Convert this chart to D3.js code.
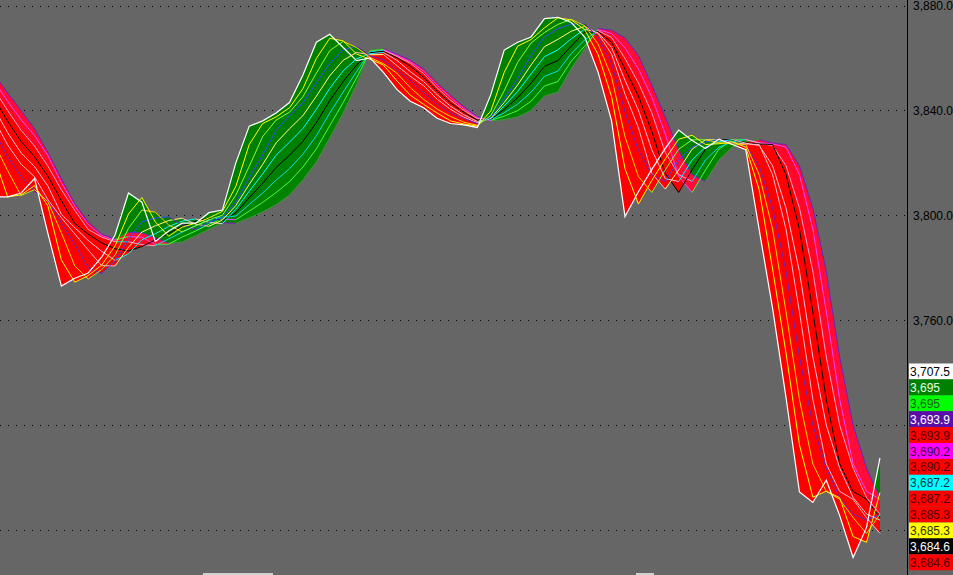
<!DOCTYPE html>
<html><head><meta charset="utf-8">
<script src="https://cdn.jsdelivr.net/npm/d3@7"></script>
<style>html,body{margin:0;padding:0;background:#666666;overflow:hidden}svg{display:block}</style>
</head><body>
<svg id="chart" width="953" height="575"></svg>
<script>
// ---- data ----
const price = [3807,3807,3808.5,3814,3793,3773,3776,3778,3784,3792.5,
3808.5,3805,3790,3794,3797,3797,3801,3802,3820,3834,
3836,3839,3843,3853.5,3866,3869,3864,3859,3860,3854.5,
3848,3843.5,3841,3837,3835,3834.5,3833.5,3846,3863,3866,
3868,3875,3875.5,3873.5,3868,3854.5,3836,3799.5,3809,3817.5,
3825.5,3832.5,3828.5,3825.5,3829,3827,3825,3794.5,3764.5,3730.5,
3694.5,3690.5,3699,3685.5,3669.5,3681,3707.5];
const ma2 = [3822,3807,3807.8,3811.3,3803.5,3783,3774.5,3777,3781,3788.3,
3800.5,3806.8,3797.5,3792,3795.5,3797,3799,3801.5,3811,3827,
3835,3837.5,3841,3848.3,3859.8,3867.5,3866.5,3861.5,3859.5,3857.3,
3851.3,3845.8,3842.3,3839,3836,3834.8,3834,3839.8,3854.5,3864.5,
3867,3871.5,3875.3,3874.5,3870.8,3861.3,3845.3,3817.8,3804.3,3813.3,
3821.5,3829,3830.5,3827,3827.3,3828,3826,3809.8,3779.5,3747.5,
3712.5,3692.5,3694.8,3692.3,3677.5,3675.3,3694.3];
const ma3 = [3827.3,3817,3807.5,3809.8,3805.2,3793.3,3780.7,3775.7,3779.3,3784.8,
3795,3802,3801.2,3796.3,3793.7,3796,3798.3,3800,3807.7,3818.7,
3830,3836.3,3839.3,3845.2,3854.2,3862.8,3866.3,3864,3860.2,3857.8,
3854.2,3848.7,3844.2,3840.5,3837.7,3835.5,3834.3,3838,3847.5,3858.3,
3865.7,3869.7,3872.8,3874.7,3872.3,3865.3,3852.8,3830,3814.8,3808.7,
3817.3,3825.2,3828.8,3828.8,3827.7,3827.2,3827,3815.5,3794.7,3763.2,
3729.8,3705.2,3694.7,3691.7,3684.7,3678.7,3686];
const ma4 = [3831.8,3822.3,3814.9,3809.1,3805.6,3797.1,3789,3780,3777.8,3782.6,
3790.8,3797.5,3799,3799.4,3796.5,3794.5,3797.3,3799.3,3805,3814.3,
3823,3832.3,3838,3842.9,3850.4,3857.9,3863.1,3864.5,3860.8,3859.4,
3855.4,3851.5,3846.8,3842.4,3839.1,3836.9,3835,3837.3,3844.3,3852.1,
3860.8,3868,3871.1,3873,3873,3867.9,3858,3839.5,3824.8,3815.5,
3812.9,3821.1,3826,3828,3828.9,3827.5,3826.6,3818.9,3802.8,3778.6,
3746,3720,3703.6,3692.4,3686.1,3683.8,3685.9];
const ma5 = [3836.4,3826.8,3819.5,3814.7,3805.9,3799.1,3792.9,3786.8,3780.8,3780.7,
3787.8,3793.6,3796,3798,3798.9,3796.6,3795.8,3798.2,3803.7,3811.8,
3819.4,3827.6,3833,3838,3845.4,3853.2,3859.1,3862.1,3861.2,3861.3,
3857.1,3853,3849.4,3844.3,3840.4,3837.4,3835.3,3837,3843,3849.7,
3857.3,3864.3,3867.1,3870.2,3872,3869.3,3861.5,3846.3,3833.4,
3816,3810,3817.3,3825.2,3828.8,3828.8,3827.7,3827.2,3827,3815.5,
3794.7,3763.2,3729.8,3705.2,3694.7,3691.7,3684.7,3678.7];
const ma6 = [3840.7,3831.5,3823.8,3818.6,3811.1,3800.4,3795.3,3790.4,3786.3,3782.8,
3785.3,3790.7,3793,3795.7,3797.8,3798.6,3797.3,3796.8,3802.3,3809.2,
3815.8,3822.9,3827.9,3833.1,3840.4,3848.4,3855.1,3859.7,3861.6,3862.1,
3859.1,3854.8,3851,3846,3841.6,3838.3,3835.8,3836.8,3841.7,3847.2,
3853.9,3860.5,3863.1,3867.3,3871,3869.6,3864,3851.5,3840.1,
3825,3814,3812.9,3821.1,3826,3828,3828.9,3827.5,3826.6,3818.9,
3802.8,3778.6,3746,3720,3703.6,3692.4,3686.1,3683.8];
const ma7 = [3844.6,3835.9,3828.2,3822.4,3814.9,3805.6,3796.9,3792.8,3789.5,3787.2,
3786.4,3788.1,3790.6,3793.1,3795.9,3797.7,3798.9,3798,3801,3806.7,
3812.2,3818.2,3822.9,3828.2,3835.3,3843.7,3851,3857.3,3862,3862.5,
3860.1,3856.9,3852.6,3847.4,3842.8,3839.2,3836.3,3836.6,3840.4,3844.8,
3850.4,3856.8,3859,3864.5,3869.9,3870,3866,3855.8,3845.5,
3832,3816,3808.7,3817.3,3825.2,3828.8,3828.8,3827.7,3827.2,3827,
3815.5,3794.7,3763.2,3729.8,3705.2,3694.7,3691.7,3684.7];
const ma8 = [3848,3839.9,3832.4,3826.4,3818.7,3809.7,3801.9,3794.6,3791.7,3789.9,
3789.9,3788.8,3788.4,3791,3793.6,3796,3798.1,3799.3,3799.7,3804.1,
3808.5,3813.4,3817.8,3823.3,3830.3,3839,3847,3854.8,3862.3,3862.9,
3860.6,3858,3854,3848.6,3843.9,3840,3836.8,3836.4,3839.1,3842.4,
3846.9,3853,3855,3861.7,3866.9,3870.4,3867.8,3859.8,3850.5,
3839,3824,3815.5,3812.9,3821.1,3826,3828,3828.9,3827.5,3826.6,
3818.9,3802.8,3778.6,3746,3720,3703.6,3692.4,3686.1];
const ma9 = [3851.1,3843.4,3836.4,3830.4,3822.7,3812.5,3803.5,3796.5,3792.3,3790.5,
3791.9,3791.6,3788.9,3789,3791.7,3794,3796.6,3798.6,3798.3,3801.6,
3804.9,3808.7,3812.8,3818.4,3825.3,3834.2,3843,3852.4,3862.6,3863.2,
3861,3858.6,3855,3849.6,3844.9,3840.7,3837.2,3836.2,3837.8,3839.9,
3843.5,3849.3,3851,3858.8,3864.5,3870.8,3869.3,3863.8,3855.8,
3845,3831,3814.8,3808.7,3817.3,3825.2,3828.8,3828.8,3827.7,3827.2,
3826,3815.5,3794.7,3763.2,3729.8,3705.2,3694.7,3691.7];
const maSlow = [3853.8,3846.7,3840,3833,3824,3814,3804.5,3797.5,3792.8,3791,
3793.5,3793.3,3791.4,3789.4,3789.8,3792.2,3794.7,3797.1,3797,3799,
3801.3,3804,3807.7,3813.5,3820.3,3829.5,3839,3850,3863,3863.5,
3861.4,3859.2,3855.8,3850.5,3845.8,3841.4,3837.6,3836,3836.5,3837.5,
3840,3845.5,3847,3856,3863.5,3871.2,3870.6,3867.6,3861,
3849.7,3837.5,3824.8,3815.5,3812.9,3821.1,3826,3828,3828.9,3827.5,
3827,3818.9,3802.8,3778.6,3746,3720,3703.6,3692.4];

const maSeries = [ma2, ma3, ma4, ma5, ma6, ma7, ma8, ma9, maSlow];
const maUpColors   = ["#ffff00","#80ff40","#2850ff","#ffff80","#00ffff","#000000","#00e0e0","#40ff40","#30a030"];
const maDownColors = ["#ffff00","#ffd000","#7020c0","#ffb8c8","#ffc0d0","#000000","#ffa0c8","#ff40ff","#7020c0"];
const bandUpColors   = ["#008000","#008000","#008000","#008000","#008000","#008000","#008000","#008400","#008400"];
const bandDownColors = ["#ff0000","#ff0000","#ff0000","#ff0000","#ff0000","#ff0000","#ff0000","#ff0828","#ff0c38"];

const gridValues  = [3880, 3840, 3800, 3760, 3720, 3680];
const labelValues = [3880, 3840, 3800, 3760];

const legendLabels = ["3,707.5","3,695","3,695","3,693.9","3,693.9","3,690.2","3,690.2","3,687.2","3,687.2","3,685.3","3,685.3","3,684.6","3,684.6"];
const legendFills  = ["#ffffff","#008000","#00ff00","#5a10a8","#ff0000","#ff00ff","#ff0000","#00ffff","#ff0000","#ff0000","#ffff00","#000000","#ff0000"];
const legendInk    = ["#000000","#e8ffe8","#106010","#ffffff","#500000","#400040","#500000","#003040","#500000","#500000","#303000","#ffffff","#500000"];

// ---- drawing ----
const W = 953, H = 575, plotRight = 907;
const svg = d3.select("#chart");
const n = price.length;
const idx = d3.range(n);
const x = d3.scaleLinear().domain([0, 68]).range([-5.72, 906.8]);
const y = d3.scaleLinear().domain([3680, 3880]).range([530, 5.5]);

svg.append("rect").attr("width", W).attr("height", H).attr("fill", "#666666");

const defs = svg.append("defs");
defs.append("clipPath").attr("id", "plotClip")
  .append("rect").attr("x", 0).attr("y", 0).attr("width", plotRight).attr("height", H);

// grid
const grid = svg.append("g");
gridValues.forEach(t => {
  grid.append("line").attr("x1", 0).attr("x2", plotRight)
    .attr("y1", Math.round(y(t)) + 0.5).attr("y2", Math.round(y(t)) + 0.5)
    .attr("stroke", "#000").attr("stroke-width", 1).attr("stroke-dasharray", "1,7");
});

const plot = svg.append("g").attr("clip-path", "url(#plotClip)");
const lines = [price, ...maSeries];

// bands between consecutive lines: green where the faster is above, red where below
for (let k = 0; k < lines.length - 1; k++) {
  const fast = lines[k], slow = lines[k + 1];
  const band = d3.area().x(i => x(i)).y0(i => y(slow[i])).y1(i => y(fast[i]))(idx);
  const above = d3.area().x(i => x(i)).y0(0).y1(i => y(slow[i]))(idx);
  const below = d3.area().x(i => x(i)).y0(H).y1(i => y(slow[i]))(idx);
  defs.append("clipPath").attr("id", "ab" + k).append("path").attr("d", above);
  defs.append("clipPath").attr("id", "bl" + k).append("path").attr("d", below);
  plot.append("g").attr("clip-path", "url(#ab" + k + ")")
    .append("path").attr("d", band).attr("fill", bandUpColors[k]);
  plot.append("g").attr("clip-path", "url(#bl" + k + ")")
    .append("path").attr("d", band).attr("fill", bandDownColors[k]);
}

// moving average lines, each segment coloured by its direction
const seg = d3.line();
for (let m = maSeries.length - 1; m >= 0; m--) {
  const s = maSeries[m];
  const g = plot.append("g");
  for (let i = 0; i < n - 1; i++) {
    g.append("path")
      .attr("d", seg([[x(i), y(s[i])], [x(i + 1), y(s[i + 1])]]))
      .attr("fill", "none").attr("stroke-width", 1)
      .attr("stroke", s[i + 1] >= s[i] ? maUpColors[m] : maDownColors[m]);
  }
}

// price line
plot.append("path")
  .attr("d", d3.line().x(i => x(i)).y(i => y(price[i]))(idx))
  .attr("fill", "none").attr("stroke", "#ffffff").attr("stroke-width", 1.2);

// right axis
const axis = svg.append("g").attr("transform", "translate(" + plotRight + ",0)")
  .call(d3.axisRight(y).tickValues(labelValues).tickSize(0).tickPadding(6).tickFormat(d3.format(",.1f")));
axis.select(".domain").remove();
axis.selectAll("text").attr("fill", "#000").attr("font-family", "Liberation Sans, Arial, sans-serif").attr("font-size", 12);
svg.append("line").attr("x1", plotRight + 0.5).attr("x2", plotRight + 0.5).attr("y1", 0).attr("y2", H)
  .attr("stroke", "#000").attr("stroke-width", 1);

// value legend boxes
const lg = svg.append("g");
const boxTop = 363.5, boxH = 15.9;
legendLabels.forEach((lab, k) => {
  lg.append("rect").attr("x", plotRight + 2).attr("y", boxTop + k * boxH)
    .attr("width", W - plotRight - 2).attr("height", boxH).attr("fill", legendFills[k]);
  lg.append("text").attr("x", plotRight + 3).attr("y", boxTop + k * boxH + 12.5)
    .attr("font-family", "Liberation Sans, Arial, sans-serif").attr("font-size", 12)
    .attr("fill", legendInk[k]).text(lab);
});

// scroll marks at bottom edge
svg.append("rect").attr("x", 203).attr("y", 573).attr("width", 70).attr("height", 2).attr("fill", "#d0d0d0");
svg.append("rect").attr("x", 636).attr("y", 573).attr("width", 18).attr("height", 2).attr("fill", "#d0d0d0");
</script>
</body></html>
